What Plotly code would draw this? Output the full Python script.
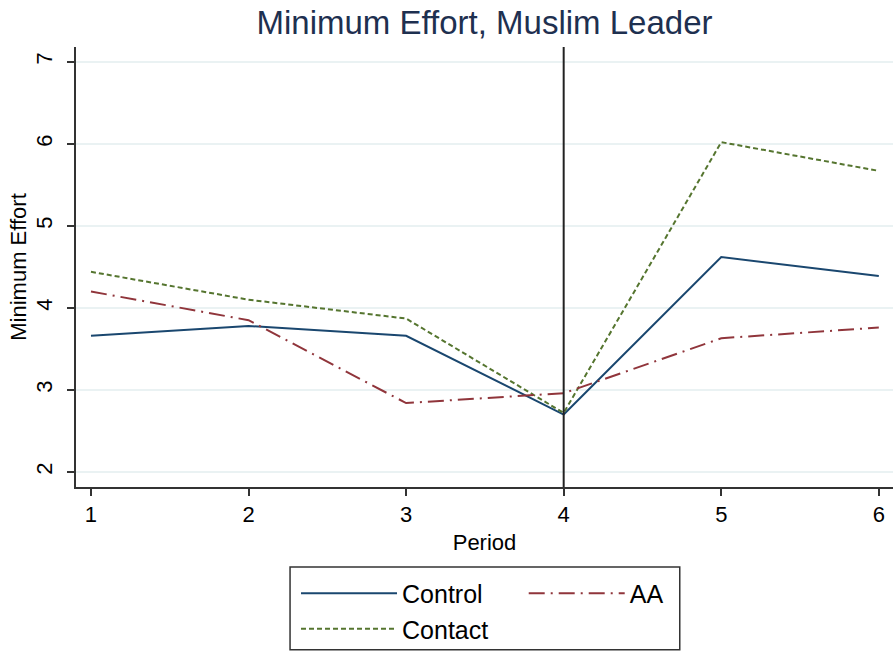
import plotly.graph_objects as go

periods = [1, 2, 3, 4, 5, 6]
control = [3.66, 3.78, 3.66, 2.70, 4.62, 4.39]
contact = [4.44, 4.10, 3.87, 2.72, 6.02, 5.67]
aa = [4.20, 3.85, 2.84, 2.96, 3.63, 3.76]
y_ticks = [2, 3, 4, 5, 6, 7]
treatment_period = 4

FONT = "Liberation Sans, Arial, sans-serif"

fig = go.Figure()
fig.add_trace(go.Scatter(x=periods, y=control, mode="lines", name="Control",
                         line=dict(color="#1a476f", width=2), legend="legend"))
fig.add_trace(go.Scatter(x=periods, y=contact, mode="lines", name="Contact",
                         line=dict(color="#55752f", width=2, dash="5px,3px"), legend="legend"))
fig.add_trace(go.Scatter(x=periods, y=aa, mode="lines", name="AA",
                         line=dict(color="#90353b", width=2, dash="16px,6px,2px,6px"), legend="legend2"))

fig.add_vline(x=treatment_period, line=dict(color="#222222", width=2))

# legend border
fig.add_shape(type="rect", xref="paper", yref="paper",
              x0=0.262, x1=0.739, y0=-0.370, y1=-0.182,
              line=dict(color="#333333", width=1.5), fillcolor="rgba(0,0,0,0)")

fig.update_layout(
    width=894, height=653,
    margin=dict(l=76, r=1, t=47, b=166),
    paper_bgcolor="white", plot_bgcolor="white",
    font=dict(family=FONT, color="black"),
    title=dict(text="Minimum Effort, Muslim Leader", x=0.5, xref="paper",
               y=0.965, yanchor="middle",
               font=dict(size=33, color="#1e3050", family=FONT)),
    xaxis=dict(range=[0.905, 6.09], tickvals=periods, ticks="outside", ticklen=7,
               tickwidth=1.5, tickcolor="#333333", showline=True, linecolor="#333333",
               linewidth=1.5, showgrid=False, zeroline=False,
               tickfont=dict(size=22),
               title=dict(text="Period", font=dict(size=22), standoff=8)),
    yaxis=dict(range=[1.817, 7.18], tickvals=y_ticks, ticks="outside", ticklen=7,
               tickwidth=1.5, tickcolor="#333333", showline=True, linecolor="#333333",
               linewidth=1.5, showgrid=True, gridcolor="#eaf2f3", gridwidth=1.5,
               zeroline=False, tickangle=-90, ticklabelstandoff=6,
               tickfont=dict(size=22),
               title=dict(text="Minimum Effort", font=dict(size=22), standoff=0)),
    legend=dict(x=0.2693, y=-0.19, xanchor="left", yanchor="top",
                orientation="v", font=dict(size=25), itemwidth=96,
                bgcolor="rgba(0,0,0,0)", tracegroupgap=0),
    legend2=dict(x=0.548, y=-0.19, xanchor="left", yanchor="top",
                 orientation="v", font=dict(size=25), itemwidth=96,
                 bgcolor="rgba(0,0,0,0)"),
)

fig.write_html("out.html", config={"displayModeBar": False},
               post_script="document.body.style.margin='0';")
